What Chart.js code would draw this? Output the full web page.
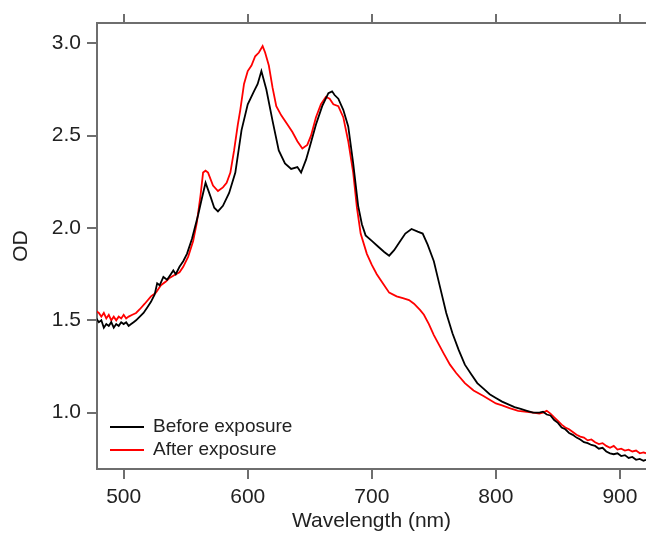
<!DOCTYPE html>
<html>
<head>
<meta charset="utf-8">
<script src="https://cdn.jsdelivr.net/npm/chart.js@4/dist/chart.umd.min.js"></script>
<style>
  html, body { margin: 0; padding: 0; background: #fff; }
  #wrap { width: 646px; height: 536px; position: relative; }
</style>
</head>
<body>
<div id="wrap"><canvas id="spectrum"></canvas></div>
<script>
// Absorption spectra, before / after exposure

const xTicks = [500, 600, 700, 800, 900];
const yTicks = [1.0, 1.5, 2.0, 2.5, 3.0];

const wlBefore = [478, 480, 482, 484, 486, 488, 490, 492, 494, 496, 498, 500, 502, 504, 506, 508, 510, 513, 516, 519,
    522, 525, 527, 529, 532, 535, 538, 540, 542, 545, 548, 551, 555, 560, 563,
    566, 570, 573, 576, 580, 585, 590, 595, 600, 605, 608, 611, 615, 620, 625, 630, 635, 640, 643, 647,
    650, 655, 660, 665, 668, 670, 673, 677, 681, 685, 689, 692, 695, 700, 705, 710, 714, 718, 722, 727,
    732, 737, 741, 745, 750, 755, 760, 765, 770, 775, 780, 785, 790, 795, 800, 805, 810, 815, 820, 825,
    830, 835, 838, 841, 844, 847, 850, 853, 856, 859, 862, 865, 868, 871, 874, 877, 880, 883, 886, 889,
    892, 895, 898, 901, 904, 907, 910, 913, 916, 919, 921];
const odBefore = [1.51, 1.49, 1.50, 1.46, 1.48, 1.47, 1.49, 1.46, 1.48, 1.47, 1.49, 1.48, 1.49, 1.47, 1.48, 1.49, 1.50, 1.52, 1.54, 1.57,
    1.60, 1.64, 1.70, 1.69, 1.735, 1.72, 1.75, 1.77, 1.75, 1.79, 1.82, 1.86, 1.94, 2.07, 2.16,
    2.245, 2.17, 2.11, 2.09, 2.12, 2.19, 2.30, 2.53, 2.67, 2.74, 2.78, 2.85, 2.75, 2.58, 2.42, 2.35, 2.32, 2.33, 2.30, 2.37,
    2.44, 2.56, 2.66, 2.73, 2.74, 2.72, 2.70, 2.64, 2.55, 2.35, 2.12, 2.02, 1.96, 1.93, 1.90, 1.87, 1.85, 1.88, 1.92, 1.97,
    1.995, 1.98, 1.97, 1.91, 1.82, 1.68, 1.54, 1.43, 1.34, 1.26, 1.21, 1.16, 1.13, 1.10, 1.08, 1.06, 1.045, 1.03, 1.02, 1.01,
    1.00, 1.00, 1.005, 0.99, 0.985, 0.96, 0.945, 0.92, 0.91, 0.89, 0.88, 0.865, 0.855, 0.84, 0.835, 0.825, 0.82, 0.805, 0.81, 0.79,
    0.78, 0.775, 0.78, 0.765, 0.77, 0.755, 0.76, 0.745, 0.75, 0.74, 0.745];

const wlAfter = [478, 480, 482, 484, 486, 488, 490, 492, 494, 496, 498, 500, 502, 504, 507, 510, 513, 517, 522, 526,
    530, 534, 537, 541, 545, 548, 552, 556, 559,
    562, 564, 566, 568, 572, 576, 580, 583, 586, 589, 592, 594, 597, 600, 603, 606, 609, 612, 614, 617,
    620, 623, 627, 632, 636, 640, 644, 648, 651, 655, 659, 663, 666, 669, 673, 677, 681, 685, 688, 691,
    696, 700, 704, 709, 714, 720, 725, 730, 734, 739, 742, 746, 750, 754, 758, 763, 768, 775, 782, 790,
    795, 800, 805, 811, 818, 825, 830, 835, 838, 841, 844, 847, 850, 853, 856, 859, 862, 865, 868, 871,
    874, 877, 880, 883, 886, 889, 892, 895, 898, 901, 904, 907, 910, 913, 916, 919, 921];
const odAfter = [1.55, 1.54, 1.52, 1.54, 1.51, 1.53, 1.50, 1.52, 1.50, 1.52, 1.51, 1.53, 1.51, 1.52, 1.53, 1.54, 1.56, 1.59, 1.63, 1.65,
    1.69, 1.71, 1.73, 1.745, 1.76, 1.79, 1.845, 1.93, 2.03,
    2.18, 2.30, 2.31, 2.30, 2.23, 2.20, 2.22, 2.245, 2.30, 2.42, 2.56, 2.64, 2.78, 2.85, 2.88, 2.93, 2.95, 2.985, 2.95, 2.88,
    2.76, 2.66, 2.61, 2.56, 2.52, 2.47, 2.43, 2.45, 2.50, 2.60, 2.67, 2.71, 2.70, 2.67, 2.66, 2.60, 2.47, 2.30, 2.11, 1.97,
    1.86, 1.80, 1.75, 1.70, 1.65, 1.63, 1.62, 1.61, 1.59, 1.555, 1.53, 1.48, 1.42, 1.37, 1.32, 1.26, 1.215, 1.16, 1.12, 1.09,
    1.07, 1.05, 1.04, 1.025, 1.01, 1.005, 1.00, 0.995, 1.00, 1.01, 0.995, 0.975, 0.955, 0.935, 0.92, 0.91, 0.895, 0.88, 0.87, 0.865,
    0.85, 0.855, 0.84, 0.83, 0.835, 0.82, 0.81, 0.82, 0.80, 0.805, 0.795, 0.80, 0.79, 0.795, 0.78, 0.785, 0.78];

const seriesNames = ['Before exposure', 'After exposure'];
const seriesColors = ['#000000', '#ff0000'];

const X_MIN = 478.5, X_MAX = 921;
const Y_MIN = 0.695, Y_MAX = 3.11;
const AXIS_COLOR = '#6e6e6e';
const TEXT_COLOR = '#222222';
const FONT = 'Liberation Sans, Arial, sans-serif';

function toPoints(xs, ys) {
    return xs.map((x, i) => ({ x: x, y: ys[i] }));
}

function fixedTicks(values) {
    return scale => { scale.ticks = values.map(v => ({ value: v })); };
}

// legend drawn inside the plot, bottom left
const insideLegend = {
    id: 'insideLegend',
    afterDraw(chart) {
        const ctx = chart.ctx;
        const area = chart.chartArea;
        ctx.save();
        ctx.font = '19px ' + FONT;
        ctx.textBaseline = 'middle';
        chart.data.datasets.forEach((ds, i) => {
            const y = area.bottom - 42 + i * 23;
            ctx.strokeStyle = ds.borderColor;
            ctx.lineWidth = 2;
            ctx.beginPath();
            ctx.moveTo(area.left + 13, y);
            ctx.lineTo(area.left + 47, y);
            ctx.stroke();
            ctx.fillStyle = TEXT_COLOR;
            ctx.fillText(ds.label, area.left + 56, y);
        });
        ctx.restore();
    }
};

const ctx = document.getElementById('spectrum').getContext('2d');
new Chart(ctx, {
    type: 'line',
    data: {
        datasets: [
            { label: seriesNames[0], data: toPoints(wlBefore, odBefore), borderColor: seriesColors[0] },
            { label: seriesNames[1], data: toPoints(wlAfter, odAfter), borderColor: seriesColors[1] }
        ]
    },
    options: {
        responsive: true,
        maintainAspectRatio: false,
        animation: false,
        layout: { padding: 0 },
        elements: {
            line: { borderWidth: 1.8, tension: 0, fill: false },
            point: { radius: 0 }
        },
        plugins: {
            legend: { display: false },
            tooltip: { enabled: false }
        },
        scales: {
            x: {
                type: 'linear',
                position: 'bottom',
                min: X_MIN,
                max: X_MAX,
                afterBuildTicks: fixedTicks(xTicks),
                afterFit: s => { s.height = 67; },
                grid: { drawOnChartArea: false, color: AXIS_COLOR, lineWidth: 2, tickLength: 10 },
                border: { color: AXIS_COLOR, width: 2 },
                ticks: { color: TEXT_COLOR, font: { size: 21, family: FONT }, padding: 6, maxRotation: 0 },
                title: {
                    display: true, text: 'Wavelength (nm)', color: TEXT_COLOR,
                    font: { size: 21, family: FONT }, padding: { top: 0, bottom: 2 }
                }
            },
            xTop: {
                type: 'linear',
                position: 'top',
                min: X_MIN,
                max: X_MAX,
                afterBuildTicks: fixedTicks(xTicks),
                afterFit: s => { s.height = 23; },
                grid: { drawOnChartArea: false, color: AXIS_COLOR, lineWidth: 2, tickLength: 9 },
                border: { color: AXIS_COLOR, width: 2 },
                ticks: { display: false }
            },
            y: {
                type: 'linear',
                min: Y_MIN,
                max: Y_MAX,
                afterBuildTicks: fixedTicks(yTicks),
                afterFit: s => { s.width = 97; },
                grid: { drawOnChartArea: false, color: AXIS_COLOR, lineWidth: 2, tickLength: 10 },
                border: { color: AXIS_COLOR, width: 2 },
                ticks: {
                    color: TEXT_COLOR, font: { size: 21, family: FONT }, padding: 6,
                    callback: v => v.toFixed(1)
                },
                title: {
                    display: true, text: 'OD', color: TEXT_COLOR,
                    font: { size: 21, family: FONT }, padding: { top: 9, bottom: 0 }
                }
            }
        }
    },
    plugins: [insideLegend]
});
</script>
</body>
</html>
